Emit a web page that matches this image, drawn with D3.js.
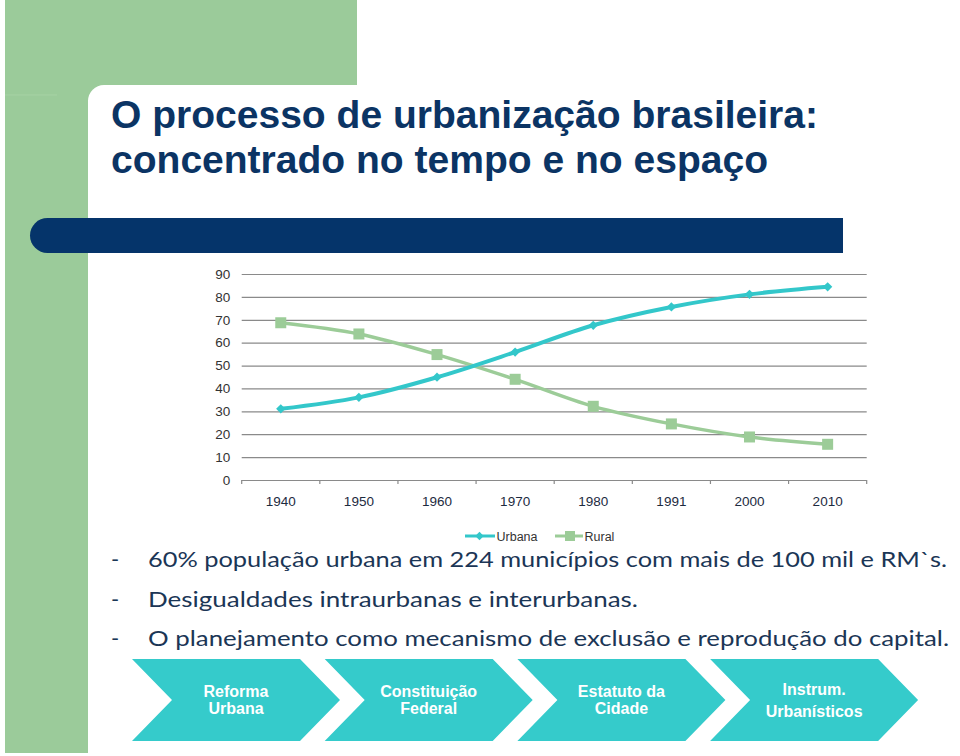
<!DOCTYPE html>
<html>
<head>
<meta charset="utf-8">
<script src="https://cdn.jsdelivr.net/npm/d3@7"></script>
<style>
  html, body { margin: 0; padding: 0; background: #fff; }
  svg { display: block; }
</style>
</head>
<body>
<svg id="slide" width="960" height="756"></svg>
<script>
// ---------- data ----------
const years = ["1940", "1950", "1960", "1970", "1980", "1991", "2000", "2010"];
const urbana = [31.1, 36.1, 44.9, 55.9, 67.6, 75.6, 81.1, 84.4];
const rural = [68.7, 63.8, 54.8, 44.0, 32.2, 24.5, 18.8, 15.6];
const yTicks = [0, 10, 20, 30, 40, 50, 60, 70, 80, 90];
const seriesNames = ["Urbana", "Rural"];
const titleLines = ["O processo de urbanização brasileira:", "concentrado no tempo e no espaço"];
const bullets = [
  "60% população urbana em 224 municípios com mais de 100 mil e RM`s.",
  "Desigualdades intraurbanas e interurbanas.",
  "O planejamento como mecanismo de exclusão e reprodução do capital."
];
const steps = [["Reforma", "Urbana"], ["Constituição", "Federal"], ["Estatuto da", "Cidade"], ["Instrum.", "Urbanísticos"]];

// ---------- styles ----------
const GREEN = "#9bcb9a";
const NAVY = "#05346a";
const TITLE = "#0b3464";
const TURQ = "#33c7ca";
const CHEV = "#35cbcb";
const RURAL = "#9ccc98";
const TEXT = "#1b3656";
const ARIAL = "'Liberation Sans', Arial, sans-serif";

const svg = d3.select("#slide");
svg.append("rect").attr("width", 960).attr("height", 756).attr("fill", "#fff");

// ---------- decorative background ----------
svg.append("rect").attr("x", 5).attr("y", 0).attr("width", 352).attr("height", 100).attr("fill", GREEN);
svg.append("rect").attr("x", 5).attr("y", 0).attr("width", 83).attr("height", 753).attr("fill", GREEN);
svg.append("rect").attr("x", 88).attr("y", 85).attr("width", 900).attr("height", 700)
  .attr("rx", 16).attr("ry", 16).attr("fill", "#fff");
svg.append("line").attr("x1", 5).attr("x2", 57).attr("y1", 95).attr("y2", 95)
  .attr("stroke", "#a6d2a4").attr("stroke-width", 1);

// title
const tw = [707, 657];
svg.append("g").selectAll("text").data(titleLines).join("text")
  .attr("x", 111).attr("y", (d, i) => 128 + i * 45)
  .attr("font-family", ARIAL).attr("font-weight", "bold").attr("font-size", 39)
  .attr("fill", TITLE)
  .attr("textLength", (d, i) => tw[i]).attr("lengthAdjust", "spacingAndGlyphs")
  .text(d => d);

// navy bar (rounded left end)
svg.append("path")
  .attr("d", "M47.5,218 H843 V253 H47.5 A17.5,17.5 0 0 1 47.5,218 Z")
  .attr("fill", NAVY);

// ---------- chart ----------
const x = d3.scaleBand().domain(years).range([241.7, 866.7]);
const y = d3.scaleLinear().domain([0, 90]).range([480, 274]);
const plotW = x.range()[1] - x.range()[0];

const chart = svg.append("g");

// y gridlines + labels
const yAxis = chart.append("g")
  .attr("transform", `translate(${x.range()[0]},0)`)
  .call(d3.axisLeft(y).tickValues(yTicks).tickSize(-plotW).tickPadding(11.5).tickFormat(d3.format("d")));
yAxis.select(".domain").remove();
yAxis.selectAll(".tick line").attr("stroke", "#8a8a8a").attr("stroke-width", 1.2);
yAxis.selectAll(".tick text").attr("font-family", ARIAL).attr("font-size", 13.5).attr("fill", "#333");

// x axis: labels centered in bands, ticks at band boundaries
const xAxis = chart.append("g")
  .attr("transform", `translate(0,${y(0)})`)
  .call(d3.axisBottom(x).tickSize(0).tickPadding(16));
xAxis.select(".domain").remove();
xAxis.selectAll(".tick text").attr("font-family", ARIAL).attr("font-size", 13.5).attr("fill", "#1d2b3f");
const bounds = years.map(d => x(d)).concat([x.range()[1]]);
chart.append("g").selectAll("line").data(bounds).join("line")
  .attr("x1", d => d).attr("x2", d => d)
  .attr("y1", y(0)).attr("y2", y(0) + 4)
  .attr("stroke", "#8a8a8a").attr("stroke-width", 1.2);

const cx = d => x(d) + x.bandwidth() / 2;
const line = d3.line().curve(d3.curveCatmullRom.alpha(0.5));

// rural series
chart.append("path")
  .attr("d", line(years.map((d, i) => [cx(d), y(rural[i])])))
  .attr("fill", "none").attr("stroke", RURAL).attr("stroke-width", 3.4);
chart.append("g").selectAll("rect").data(years).join("rect")
  .attr("x", d => cx(d) - 5.5).attr("y", (d, i) => y(rural[i]) - 5.5)
  .attr("width", 11).attr("height", 11).attr("fill", RURAL);

// urbana series
chart.append("path")
  .attr("d", line(years.map((d, i) => [cx(d), y(urbana[i])])))
  .attr("fill", "none").attr("stroke", TURQ).attr("stroke-width", 4);
const diamond = d3.symbol().type(d3.symbolDiamond2).size(55);
chart.append("g").selectAll("path").data(years).join("path")
  .attr("transform", (d, i) => `translate(${cx(d)},${y(urbana[i])})`)
  .attr("d", diamond).attr("fill", TURQ);

// legend
const lg = svg.append("g").attr("transform", "translate(0,536)");
lg.append("line").attr("x1", 465).attr("x2", 495).attr("stroke", TURQ).attr("stroke-width", 3);
lg.append("path").attr("transform", "translate(479.5,0)").attr("d", d3.symbol().type(d3.symbolDiamond2).size(45)).attr("fill", TURQ);
lg.append("text").attr("x", 496.5).attr("y", 4.5).attr("font-family", ARIAL).attr("font-size", 12.5)
  .attr("fill", "#333").text(seriesNames[0]);
lg.append("line").attr("x1", 555).attr("x2", 583).attr("stroke", RURAL).attr("stroke-width", 3);
lg.append("rect").attr("x", 565).attr("y", -5).attr("width", 10).attr("height", 10).attr("fill", RURAL);
lg.append("text").attr("x", 584.5).attr("y", 4.5).attr("font-family", ARIAL).attr("font-size", 12.5)
  .attr("fill", "#333").text(seriesNames[1]);

// ---------- bullet text ----------
const bulletBase = [567, 607, 645.5];
const bulletW = [799, 490, 801];
const bg = svg.append("g");
bg.selectAll("text.dash").data(bullets).join("text").attr("class", "dash")
  .attr("x", 111).attr("y", (d, i) => bulletBase[i])
  .attr("font-family", "Lato, 'Open Sans', sans-serif").attr("font-size", 22)
  .attr("fill", TEXT).text("-");
bg.selectAll("text.bt").data(bullets).join("text").attr("class", "bt")
  .attr("x", 148).attr("y", (d, i) => bulletBase[i])
  .attr("font-family", "Lato, 'Open Sans', sans-serif").attr("font-size", 22)
  .attr("fill", TEXT)
  .attr("textLength", (d, i) => bulletW[i]).attr("lengthAdjust", "spacingAndGlyphs")
  .text(d => d);

// ---------- chevrons ----------
const chev = svg.append("g");
const chTop = 659, chBot = 741, chMid = 700, depth = 40, cw = 168, step = 192.7;
steps.forEach((s, i) => {
  const L = 132 + i * step;
  chev.append("path")
    .attr("d", `M${L},${chTop} H${L + cw} L${L + cw + depth},${chMid} L${L + cw},${chBot} H${L} L${L + depth},${chMid} Z`)
    .attr("fill", CHEV);
  const tx = L + depth + (cw - depth) / 2;
  const b = i === 3 ? [695, 716.5] : [696.5, 714];
  s.forEach((t, j) => {
    chev.append("text").attr("x", tx).attr("y", b[j])
      .attr("text-anchor", "middle").attr("font-family", ARIAL).attr("font-weight", "bold")
      .attr("font-size", 16).attr("fill", "#fff").text(t);
  });
});
</script>
</body>
</html>
